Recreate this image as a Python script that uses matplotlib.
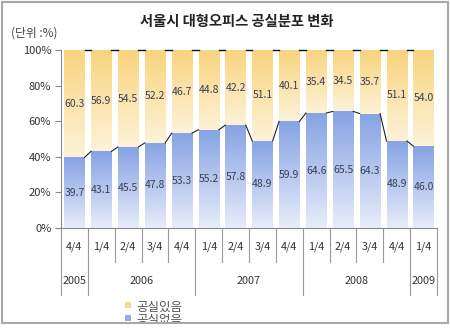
import numpy as np
import matplotlib
matplotlib.use("Agg")
import matplotlib.pyplot as plt
from matplotlib.colors import LinearSegmentedColormap
from matplotlib.patches import Rectangle

plt.rcParams['font.family'] = ['Noto Sans CJK KR', 'DejaVu Sans']

quarters = ["4/4", "1/4", "2/4", "3/4", "4/4", "1/4", "2/4", "3/4", "4/4",
            "1/4", "2/4", "3/4", "4/4", "1/4"]
years = ["2005", "2006", "2007", "2008", "2009"]
year_counts = [1, 4, 4, 4, 1]
no_vacancy = [39.7, 43.1, 45.5, 47.8, 53.3, 55.2, 57.8, 48.9, 59.9, 64.6, 65.5, 64.3, 48.9, 46.0]
vacancy = [60.3, 56.9, 54.5, 52.2, 46.7, 44.8, 42.2, 51.1, 40.1, 35.4, 34.5, 35.7, 51.1, 54.0]
yticks = [0, 20, 40, 60, 80, 100]

W, H = 450, 328
fig = plt.figure(figsize=(W / 100, H / 100), dpi=100)
ax = fig.add_axes([61 / W, 1 - 228 / H, (437 - 61) / W, (228 - 50) / H])

n = len(quarters)
x = np.arange(n)
bw = 0.76

blue_cmap = LinearSegmentedColormap.from_list("b", ["#e6ecf9", "#87a3e4"])
yel_cmap = LinearSegmentedColormap.from_list("y", ["#fdf2d8", "#f9d47e"])
grad = np.linspace(0, 1, 64).reshape(-1, 1)

for i in range(n):
    b = no_vacancy[i]
    v = vacancy[i]
    ax.imshow(grad, cmap=blue_cmap, aspect='auto', origin='lower', interpolation='nearest',
              extent=(x[i] - bw / 2, x[i] + bw / 2, 0, b), zorder=2)
    ax.imshow(grad, cmap=yel_cmap, aspect='auto', origin='lower', interpolation='nearest',
              extent=(x[i] - bw / 2, x[i] + bw / 2, b, b + v), zorder=2)
    ax.text(x[i], b / 2, f"{b:.1f}", ha='center', va='center', fontsize=7.5,
            color='#3a3f55', zorder=4)
    ax.text(x[i], b + v / 2, f"{v:.1f}", ha='center', va='center', fontsize=7.5,
            color='#3a3f55', zorder=4)

# series lines
for i in range(n - 1):
    ax.plot([x[i] + bw / 2, x[i + 1] - bw / 2], [no_vacancy[i], no_vacancy[i + 1]],
            color='#222222', lw=0.8, zorder=3)
    ax.plot([x[i] + bw / 2, x[i + 1] - bw / 2],
            [no_vacancy[i] + vacancy[i], no_vacancy[i + 1] + vacancy[i + 1]],
            color='#111111', lw=1.0, zorder=3, clip_on=False)

ax.set_xlim(-0.5, n - 0.5)
ax.set_ylim(0, 100)
ax.set_yticks(yticks)
ax.set_yticklabels([f"{t}%" for t in yticks], fontsize=8, color='#333333')
ax.tick_params(axis='y', length=4, color='#888888', width=0.8, pad=3)
ax.set_xticks([])
for s in ['top', 'right']:
    ax.spines[s].set_visible(False)
for s in ['left', 'bottom']:
    ax.spines[s].set_color('#888888')
    ax.spines[s].set_linewidth(0.8)

trans = ax.get_xaxis_transform()
q_depth = -34 / 178
y_depth = -67 / 178
for b in np.arange(-0.5, n, 1.0):
    ax.plot([b, b], [0, q_depth], transform=trans, color='#999999', lw=0.8, clip_on=False)
for i, q in enumerate(quarters):
    ax.text(x[i], -19 / 178, q, transform=trans, ha='center', va='center',
            fontsize=7.8, color='#333333')
pos = -0.5
bounds = [pos]
for yl, c in zip(years, year_counts):
    ax.text(pos + c / 2, -53 / 178, yl, transform=trans, ha='center', va='center',
            fontsize=7.8, color='#333333')
    pos += c
    bounds.append(pos)
for b in bounds:
    ax.plot([b, b], [q_depth, y_depth], transform=trans, color='#999999', lw=0.8, clip_on=False)

fig.text(237 / W, 1 - 22 / H, "서울시 대형오피스 공실분포 변화", ha='center', va='center',
         fontsize=10.3, fontweight='bold', color='#222222')
fig.text(11 / W, 1 - 33 / H, "(단위 :%)", ha='left', va='center', fontsize=8.5, color='#444444')

# legend
fig.patches.append(Rectangle((125 / W, 1 - 308 / H), 6 / W, 6 / H, transform=fig.transFigure,
                             facecolor='#f9d98a', edgecolor='none'))
fig.text(136 / W, 1 - 307 / H, "공실있음", ha='left', va='center', fontsize=9, color='#555555')
fig.patches.append(Rectangle((125 / W, 1 - 321 / H), 6 / W, 6 / H, transform=fig.transFigure,
                             facecolor='#93ace6', edgecolor='none'))
fig.text(136 / W, 1 - 320 / H, "공실없음", ha='left', va='center', fontsize=9, color='#555555')

# clip below frame and frame
fig.patches.append(Rectangle((0, 0), 1, 5 / H, transform=fig.transFigure,
                             facecolor='white', edgecolor='none', zorder=10))
fig.patches.append(Rectangle((1.5 / W, 5 / H), 446 / W, (H - 6.5) / H, transform=fig.transFigure,
                             facecolor='none', edgecolor='#a8a8a8', lw=1.5, zorder=11))

fig.savefig("out.png", dpi=100)
